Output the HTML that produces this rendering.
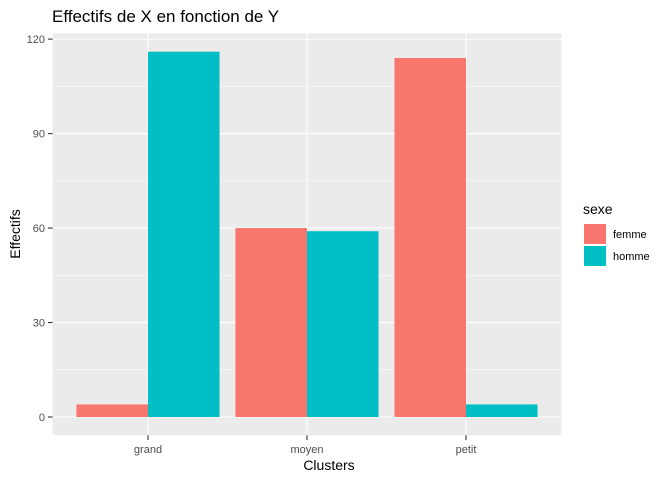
<!DOCTYPE html>
<html><head><meta charset="utf-8"><style>
body{margin:0;background:#fff;font-family:"Liberation Sans",Arial,sans-serif}
</style></head><body>
<svg width="672" height="480" xmlns="http://www.w3.org/2000/svg" font-family="Liberation Sans, Arial, sans-serif">
<text x="52" y="22" font-size="17" fill="#000">Effectifs de X en fonction de Y</text>
<rect x="52.6" y="33.3" width="508.8" height="402" fill="#EBEBEB"/>
<g id="grid"></g>
<g id="bars"></g>
<g id="axes"></g>
<text x="329" y="470" font-size="14" text-anchor="middle">Clusters</text>
<text transform="translate(20,234) rotate(-90)" font-size="14" text-anchor="middle">Effectifs</text>
<g>
<text x="583" y="214" font-size="14">sexe</text>
<g id="legend"></g>
</g>
</svg>
<script>
const categories=["grand","moyen","petit"];
const series=["femme","homme"];
const femme=[4,60,114];
const homme=[116,59,4];
const yTicks=[0,30,60,90,120];
const colors=["#F8766D","#00BFC4"];
const NS="http://www.w3.org/2000/svg";
const y0=417,ppu=3.149;
const yS=v=>y0-v*ppu;
const xS=i=>148+i*159;
const bw=159*0.9/2;
function mk(t,a,p){const e=document.createElementNS(NS,t);for(const k in a)e.setAttribute(k,a[k]);p.appendChild(e);return e;}
const grid=document.getElementById('grid'),bars=document.getElementById('bars'),axes=document.getElementById('axes'),leg=document.getElementById('legend');
for(let i=0;i<yTicks.length-1;i++){const v=(yTicks[i]+yTicks[i+1])/2;
const l=mk('line',{x1:52.6,x2:561.4,y1:yS(v),y2:yS(v),stroke:'#fff','stroke-width':0.5},grid);

}
yTicks.forEach(v=>{const l=mk('line',{x1:52.6,x2:561.4,y1:yS(v),y2:yS(v),stroke:'#fff','stroke-width':1.1},grid);


const t=mk('text',{x:45,y:yS(v)+4,'font-size':11,fill:'#4D4D4D','text-anchor':'end'},axes);t.textContent=v;


const tk=mk('line',{x1:48,x2:52.6,y1:yS(v),y2:yS(v),stroke:'#333','stroke-width':1.1},axes);

});
categories.forEach((c,i)=>{const l=mk('line',{x1:xS(i),x2:xS(i),y1:33.3,y2:435.3,stroke:'#fff','stroke-width':1.1},grid);


const t=mk('text',{x:xS(i),y:453,'font-size':11,fill:'#4D4D4D','text-anchor':'middle'},axes);t.textContent=c;


const tk=mk('line',{x1:xS(i),x2:xS(i),y1:435.3,y2:440,stroke:'#333','stroke-width':1.1},axes);


[femme,homme].forEach((arr,j)=>{const v=arr[i];
const r=mk('rect',{x:xS(i)-bw+j*bw,y:yS(v),width:bw,height:y0-yS(v),fill:colors[j]},bars);

});});
series.forEach((s,j)=>{const r=mk('rect',{x:584,y:224+j*22,width:22,height:20,fill:colors[j]},leg);


const t=mk('text',{x:613,y:238+j*22,'font-size':11,fill:'#000'},leg);t.textContent=s;

});
</script>
</body></html>
